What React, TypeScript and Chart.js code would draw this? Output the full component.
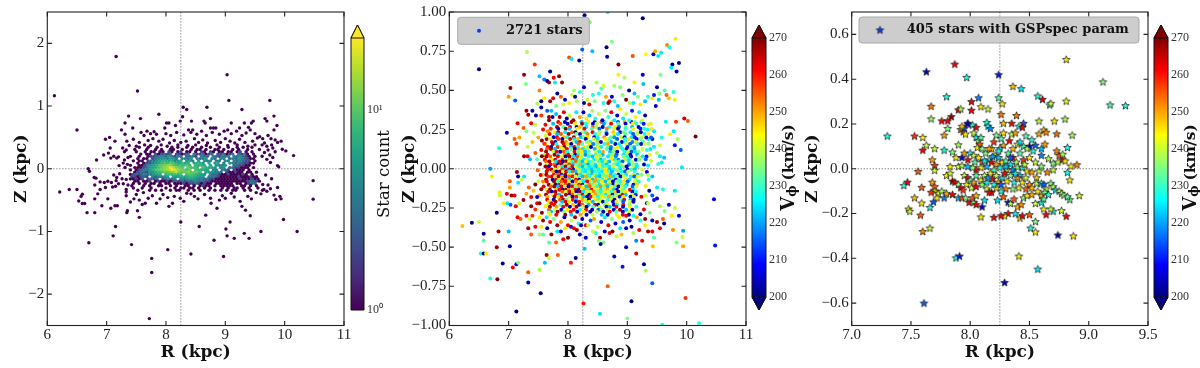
import { useEffect, useRef } from "react";
import { Chart, registerables } from "chart.js";
Chart.register(...registerables);

const SUN_R = 8.25;
const xTicks12 = [6, 7, 8, 9, 10, 11];
const yTicks1 = [-2, -1, 0, 1, 2];
const yTicks2 = [-1, -0.75, -0.5, -0.25, 0, 0.25, 0.5, 0.75, 1];
const xTicks3 = [7, 7.5, 8, 8.5, 9, 9.5];
const yTicks3 = [-0.6, -0.4, -0.2, 0, 0.2, 0.4, 0.6];
const vTicks = [200, 210, 220, 230, 240, 250, 260, 270];
const countTicks = [1, 10];

// panel 1: isolated hexbin cells holding one star (R, Z pairs)
const singleCells = [
6.12,1.165,7.16,1.79,6.5,.617,7.52,1.24,9.03,1.5,9.06,1.09,9.75,1.09,9.28,.945,8.69,.98,8.29,.98,8.35,.945,7.88,.87,7.37,.84,9.82,.84,7.57,.8,8.75,.8,8.28,.83,8.24,.76,8.43,.76,8.64,.76,8.66,.73,9.67,.8,9.7,.76,9.47,.76,9.44,.73,9.32,.73,9.1,.73,8.01,.73,8.05,.73,7.31,.73,8.16,.69,9.87,.69,9.39,.66,7.44,.65,7.98,.65,7.25,.62,8.38,.62,8.45,.62,8.8,.65,8.75,.65,8.84,.65,9.24,.65,9.04,.62,9.82,.62,9.42,.62,
7.31,.55,7.58,.58,7.68,.6,7.74,.56,7.8,.59,7.84,.55,7.63,.53,8.0,.56,8.08,.53,8.18,.58,8.3,.54,8.42,.58,8.52,.55,8.6,.6,8.68,.53,8.78,.58,8.9,.55,8.98,.6,9.1,.56,9.19,.6,9.28,.53,9.35,.57,9.5,.56,9.58,.51,9.63,.48,9.72,.53,9.77,.48,9.84,.46,
7.34,.44,7.45,.47,7.55,.42,7.7,.45,7.78,.48,7.88,.44,7.95,.47,8.06,.41,8.14,.45,8.25,.42,8.34,.44,8.48,.48,8.55,.42,8.62,.46,8.7,.41,8.83,.45,8.92,.42,9.0,.48,9.08,.44,9.16,.41,9.24,.47,9.33,.42,9.46,.44,9.54,.49,9.66,.41,9.78,.38,9.88,.42,9.96,.31,9.94,.44,10.02,.285,10.15,.21,
7.38,.37,7.5,.36,7.64,.38,7.74,.37,7.92,.38,8.02,.36,8.2,.38,8.37,.37,8.5,.38,8.68,.37,8.86,.38,9.04,.37,9.2,.38,9.38,.36,9.5,.38,9.62,.38,9.7,.36,9.8,.33,9.84,.27,9.72,.3,9.66,.26,9.75,.22,9.8,.18,9.62,.2,9.7,.15,9.88,.05,9.9,.03,9.76,.1,
6.98,.47,7.05,.5,7.14,.44,7.06,.33,6.95,.22,7.03,.25,6.83,.14,7.07,.17,7.17,.17,7.12,.2,7.2,.19,7.27,.33,7.3,.27,7.33,.3,7.21,.05,7.3,.14,7.36,.18,7.28,.09,7.35,.07,7.31,.02,
6.71,-.04,6.69,0,6.79,-.14,6.82,-.15,6.8,-.26,6.89,-.21,6.96,-.22,7.02,-.2,7.08,-.22,7.12,-.1,7.17,-.14,7.22,-.08,7.16,-.19,7.26,-.16,7.33,-.17,7.2,-.24,7.1,-.29,7.15,-.28,7.28,-.24,7.36,-.26,7.33,-.33,7.33,-.37,6.98,-.3,6.85,-.4,6.89,-.33,7.02,-.48,6.8,-.48,
6.21,-.37,6.37,-.33,6.5,-.33,6.59,-.405,6.57,-.44,6.53,-.515,6.59,-.555,6.63,-.555,6.67,-.7,6.8,-.7,6.92,-.59,7.07,-.63,7.14,-.59,7.18,-.59,7.34,-.7,7.35,-.67,7.52,-.67,7.55,-.775,7.4,-.53,7.46,-.48,7.33,-.43,7.5,-.41,7.55,-.5,7.6,-.57,7.65,-.55,7.7,-.47,7.77,-.43,7.62,-.38,7.84,-.55,7.9,-.48,7.95,-.41,8.05,-.6,8.11,-.55,8.03,-.46,8.14,-.44,8.24,-.47,8.3,-.52,8.35,-.39,8.42,-.4,8.48,-.44,8.54,-.48,8.65,-.41,8.75,-.47,8.67,-.74,8.76,-.55,8.86,-.63,8.9,-.5,8.95,-.43,9.0,-.47,9.1,-.39,9.15,-.45,9.25,-.52,9.34,-.66,9.42,-.75,9.28,-.6,9.38,-.44,9.44,-.48,9.52,-.38,9.6,-.4,9.7,-.36,9.76,-.32,9.82,-.42,9.85,-.49,9.92,-.44,9.94,-.48,9.88,-.3,9.65,-.33,9.72,-.26,9.78,-.16,9.68,-.1,9.63,-.25,
6.7,-1.18,7.11,-1.07,7.15,-.92,7.42,-1.21,7.76,-1.43,7.76,-1.655,7.72,-2.39,8.03,-1.29,8.42,-1.36,8.97,-1.4,8.56,-.92,8.25,-.85,9.08,-.85,9.01,-.96,9.03,-1.07,9.15,-1.11,8.81,-1.14,9.32,-1.03,9.4,-1.11,9.6,-1,9.98,-.81,10.21,-1,10.48,-.485,10.48,-.19,
];
// panel 1: hexbin band, one row per Z, star count per cell
const rowZ = [.342,.306,.27,.234,.198,.162,.126,.09,.054,.018,-.018,-.054,-.09,-.126,-.162,-.198,-.234,-.27,-.306,-.342];
const rowCounts = [
[0,0,0,1,0,0,1,0,0,1,0,0,0,0,1,0,1,0,0,1,0,1,0,0,1,0,0,1,0,0,1,0,0,1,0,0,1,0,1,0,0,1,0,0,0],
[0,1,0,0,0,1,0,0,1,0,1,0,0,1,1,0,0,1,0,0,1,0,1,1,0,1,0,0,1,1,0,1,0,0,1,0,1,0,0,1,0,0,0,1,0],
[0,0,1,0,0,1,0,1,1,0,1,1,0,2,1,0,1,2,0,1,1,0,1,0,2,1,0,2,1,0,1,1,0,1,1,0,1,2,0,1,0,1,0,0,0],
[0,0,0,1,0,1,1,0,2,1,2,3,2,3,0,2,2,1,2,3,0,3,2,2,3,1,2,3,0,2,2,3,1,2,3,0,3,2,4,1,0,1,0,0,0],
[1,0,0,1,0,0,1,2,2,3,4,4,3,5,4,2,4,3,0,3,3,4,2,0,4,3,3,0,4,3,2,4,3,4,0,4,3,5,3,2,1,0,1,0,0],
[0,0,1,0,1,1,0,2,3,4,5,5,4,6,5,3,0,4,4,3,5,0,4,3,4,5,0,4,3,0,4,4,0,3,4,3,5,4,3,2,1,1,0,0,0],
[0,1,0,1,1,0,2,3,3,5,6,7,7,6,7,4,5,6,0,5,6,4,0,6,0,5,4,5,0,4,3,0,5,4,0,4,3,4,3,2,2,0,1,0,0],
[0,0,1,0,1,2,2,4,5,6,8,9,8,10,9,7,6,8,6,7,0,6,7,7,5,0,6,0,5,6,0,4,0,5,4,3,4,3,2,2,1,1,0,0,0],
[1,0,0,1,1,2,4,5,6,8,10,11,12,14,12,9,8,9,8,10,8,0,8,7,7,7,0,6,0,5,5,4,5,0,0,3,3,2,2,1,1,0,0,0,0],
[0,1,1,1,2,3,5,6,7,9,11,13,15,21,17,13,11,10,0,11,9,9,8,0,9,7,7,6,5,0,4,5,0,3,3,2,2,1,1,1,0,1,0,0,0],
[1,0,1,2,3,4,4,6,8,10,11,12,14,16,23,19,14,12,11,9,11,0,9,8,7,7,6,0,5,4,0,4,3,2,0,2,1,1,1,0,1,0,0,0,0],
[0,1,2,3,3,2,5,5,7,8,9,11,10,12,13,17,11,10,11,12,10,11,10,8,0,6,6,5,4,4,3,0,2,1,1,2,1,1,0,1,1,0,1,0,0],
[1,2,3,2,3,4,3,4,5,6,7,0,8,9,8,9,8,9,0,9,10,9,8,7,6,5,0,4,3,3,2,1,1,2,1,1,1,1,2,1,0,1,0,0,0],
[2,2,1,2,3,2,0,4,3,4,4,5,6,0,6,5,6,7,6,7,8,7,6,5,5,0,4,3,3,2,1,1,1,1,1,1,2,1,1,1,2,1,1,0,0],
[1,1,2,1,2,0,2,3,2,3,0,2,3,4,3,4,0,5,4,5,6,6,5,4,4,3,3,2,2,1,1,1,1,1,1,1,1,2,1,1,1,2,1,1,0],
[0,1,1,0,1,1,2,0,1,2,1,1,2,1,2,3,2,3,2,3,3,4,4,3,3,2,2,1,1,1,1,1,1,1,1,1,1,1,1,2,3,3,2,1,0],
[0,1,0,1,0,1,0,1,1,0,1,0,1,1,0,1,1,1,2,1,2,2,3,2,1,2,1,1,0,1,1,1,1,1,1,0,1,1,0,1,2,3,3,0,0],
[1,0,0,0,1,0,1,0,0,1,1,0,0,1,0,1,0,0,1,1,0,1,0,1,2,1,1,0,1,0,1,1,1,1,1,0,0,1,1,0,1,0,1,0,0],
[0,1,0,0,1,0,0,1,0,0,0,0,1,0,0,1,0,1,1,0,1,1,0,1,0,1,0,1,0,0,0,1,0,1,0,1,1,0,1,0,1,0,0,1,0],
[0,0,1,0,0,0,1,0,1,0,1,0,0,1,0,1,1,0,0,1,0,1,0,1,0,0,1,0,1,0,1,0,1,0,1,1,0,0,1,0,1,0,0,0,1],
];

// panel 2: scattered stars as R, Z, Vphi triples
const outerStars = [
6.5,.635,200,8.28,.98,202,8.67,1,225,9.26,.96,200,8.37,.935,235,8.24,.76,215,8.74,.81,235,7.31,.745,238,7.44,.665,258,8.02,.71,256,8.06,.7,225,8.19,.69,202,8.41,.75,222,8.65,.775,200,8.66,.715,205,9.09,.72,256,9.31,.73,244,9.44,.73,205,9.47,.75,250,9.57,.74,225,9.52,.72,225,9.67,.79,252,9.71,.775,228,9.81,.83,245,8.85,.665,270,9.87,.675,200,9.76,.665,202,9.74,.645,225,9.83,.62,205,9.96,.32,265,10.02,.305,255,10.15,.205,270,9.9,.12,215,9.92,.01,225,10.46,-.195,207,10.48,-.49,210,
6.22,-.365,248,6.38,-.345,200,6.5,-.34,240,6.58,-.415,202,6.58,-.46,232,6.53,-.54,228,6.58,-.54,202,6.62,-.54,245,6.8,-.5,268,6.83,-.4,268,6.8,-.28,200,7,-.4,222,7.02,-.495,202,6.69,0,220,6.72,-.05,245,6.84,.13,228,6.97,.23,205,7,.46,250,7.03,.515,270,7.11,.435,215,6.9,-.605,202,7.07,-.63,262,7.13,-.61,205,7.16,-.6,235,6.69,-.7,228,6.81,-.705,270,7.33,-.66,255,7.52,-.645,238,7.33,-.725,205,7.54,-.795,202,7.13,-.91,200,7.61,-.6,222,7.64,-.55,268,7.68,-.57,240,7.83,-.55,255,8.05,-.6,260,8.13,-.57,202,8.28,-.51,222,8.26,-.86,260,8.54,-.925,225,8.67,-.75,255,8.78,-.56,205,8.92,-.625,210,9,-.955,235,9.07,-.845,200,9.15,-.54,262,9.28,-.61,202,9.31,-.65,238,9.42,-.73,215,8.98,-.5,205,9.43,-.495,248,9.98,-.825,258,9.59,-.995,228,10.21,-.985,228,9.94,-.495,250,9.94,-.395,220,9.93,-.435,240,9.77,-.39,252,9.83,-.47,235,
7.26,.6,268,7.29,.54,235,7.3,.37,268,7.33,.345,268,7.25,.26,255,7.3,.24,235,7.38,.29,262,7.4,.37,205,7.46,.34,202,7.48,.415,238,7.55,.39,202,7.52,.5,252,7.52,.59,222,7.6,.57,218,7.55,.43,200,7.7,.62,202,7.76,.58,262,7.65,.56,200,7.68,.55,268,7.78,.55,225,7.85,.59,268,7.9,.55,268,7.82,.48,202,7.88,.46,255,7.7,.43,268,7.72,.37,222,7.65,.37,215,7.8,.4,235,7.92,.41,240,8.02,.42,245,8.12,.46,202,8.15,.43,238,8.27,.42,202,8.33,.44,240,8.42,.47,228,8.48,.55,238,8.52,.48,228,8.56,.51,232,8.6,.53,240,8.64,.46,250,8.7,.43,262,8.68,.42,268,8.78,.43,228,8.84,.4,222,8.85,.6,245,8.88,.52,235,8.95,.58,238,8.98,.44,270,9.03,.5,200,9.04,.42,238,9.12,.48,222,9.18,.46,235,9.26,.6,205,9.27,.54,222,9.35,.46,228,9.42,.45,245,9.5,.52,202,9.54,.48,235,9.53,.44,222,9.63,.5,230,9.66,.47,255,9.7,.45,248,9.78,.49,228,9.8,.44,245,9.56,.6,235,9.48,.4,205,9.45,.47,210,
7.15,.29,262,7.1,.19,255,7.13,.16,258,7.18,.2,250,7.26,.08,268,7.32,.08,262,7.36,.06,222,7.45,.1,255,7.42,.23,240,7.55,.34,258,7.5,.2,250,7.58,.25,262,7.45,.28,240,7.32,.14,240,7.4,.17,248,7.55,.12,262,
7.26,-.05,225,7.14,-.02,268,7.16,-.05,202,7.02,-.08,255,7.02,-.12,250,7.16,-.09,225,7.22,-.07,240,6.97,-.16,262,7.05,-.17,268,7.1,-.17,262,6.85,-.15,245,6.85,-.17,240,6.92,-.22,245,6.98,-.22,225,7.03,-.23,215,7.12,-.24,262,7.18,-.22,240,7.25,-.2,268,7.3,-.16,250,7.38,-.18,262,7.34,-.12,255,7.42,-.14,248,7.45,-.1,270,7.48,-.18,205,7.38,-.24,268,7.45,-.26,258,7.52,-.22,268,7.56,-.28,268,7.62,-.24,245,7.68,-.28,240,7.72,-.22,262,7.4,-.3,258,7.3,-.3,262,7.2,-.32,255,7.15,-.31,262,7.33,-.38,268,7.35,-.32,240,7.45,-.37,262,7.52,-.42,238,7.58,-.42,232,7.65,-.38,202,7.72,-.42,268,7.82,-.4,225,7.88,-.4,205,7.92,-.45,262,8,-.44,270,8.05,-.37,205,8.1,-.38,262,8.15,-.39,268,8.2,-.42,202,8.3,-.44,205,8.34,-.36,238,8.42,-.4,240,8.54,-.44,268,8.55,-.48,202,8.52,-.46,235,8.62,-.4,202,8.7,-.41,262,8.75,-.4,270,8.82,-.43,240,8.9,-.42,248,8.98,-.38,205,9.07,-.37,202,9.15,-.46,218,9.25,-.46,262,9.3,-.32,268,9.35,-.4,268,9.42,-.4,262,9.5,-.34,268,9.55,-.38,262,9.62,-.35,200,9.42,-.33,205,9.3,-.36,245,9.22,-.33,228,9.6,-.32,255,9.75,-.3,245,9.8,-.25,240,9.87,-.3,205,9.7,-.23,205,9.63,-.27,235,9.55,-.24,238,9.5,-.19,205,9.42,-.17,215,9.45,-.2,210,9.35,-.22,240,9.6,-.13,228,9.5,-.12,225,9.8,-.14,225,9.42,-.05,222,9.35,-.04,238,
9.55,.08,225,9.5,.1,238,9.45,.14,225,9.4,.2,215,9.45,.24,225,9.36,.28,245,9.52,.03,228,9.62,.07,222,9.58,.04,225,9.8,.15,210,9.78,.24,225,9.72,.22,245,9.65,.3,225,9.85,.19,238,9.82,.3,258,9.58,.2,228,9.55,.15,240,
];
// panel 2: stars bordering the crowded core, R, Z, Vphi triples
const edgeStars = [
7.62,.28,262,7.68,.31,268,7.74,.33,205,7.8,.35,222,7.86,.33,268,7.93,.36,262,7.98,.32,202,8.03,.34,240,8.09,.31,268,8.14,.36,225,8.2,.33,250,8.26,.36,205,8.31,.32,245,8.36,.34,222,8.41,.37,238,8.46,.32,228,8.52,.35,240,8.58,.31,205,8.63,.37,235,8.68,.33,228,8.73,.36,262,8.78,.31,225,8.83,.34,205,8.88,.38,245,8.93,.32,225,8.98,.35,240,9.03,.31,228,9.08,.37,210,9.14,.33,245,9.2,.36,225,9.25,.31,240,9.3,.34,202,9.34,.25,228,9.32,.2,205,9.36,.16,235,9.33,.12,228,9.38,.09,245,9.31,.06,215,9.35,.02,225,9.4,.05,240,9.33,-.02,205,9.36,-.07,228,9.31,-.11,245,9.37,-.14,202,9.3,-.17,240,9.33,-.22,205,9.28,-.26,262,9.38,-.28,235,9.22,-.29,205,9.16,-.31,250,9.1,-.3,228,9.04,-.33,205,8.98,-.3,262,8.93,-.34,215,8.86,-.31,245,8.8,-.35,205,8.74,-.32,235,8.68,-.36,262,8.62,-.31,225,8.56,-.34,205,8.5,-.37,240,8.44,-.32,250,8.38,-.33,215,8.3,-.36,262,8.24,-.32,205,8.18,-.35,228,8.12,-.31,268,8.06,-.33,240,8,-.36,262,7.94,-.31,205,7.88,-.34,250,7.82,-.36,268,7.76,-.32,235,7.7,-.34,262,7.64,-.31,225,7.58,-.33,268,7.52,-.31,245,7.48,-.22,262,7.52,-.17,250,7.55,-.13,268,7.5,-.08,240,7.54,-.04,262,7.49,-.01,255,7.53,.03,268,7.48,.06,232,7.56,.08,270,7.6,.16,258,7.62,.21,240,7.56,.18,268,7.66,.24,252,
7.95,.44,205,8.07,.47,240,8.2,.49,228,8.36,.41,262,8.45,.43,235,8.6,.42,228,8.74,.46,205,8.92,.47,235,9.1,.42,225,9.22,.41,245,9.3,.43,222,7.6,.45,245,7.75,.45,262,7.68,.33,268,8.1,.5,238,8.27,.52,205,8.78,.53,238,9.12,.55,245,
7.8,-.47,255,7.95,-.38,245,8.22,-.36,205,8.47,-.41,228,8.6,-.47,235,8.88,-.38,225,9.1,-.41,238,9.2,-.39,262,9.45,-.44,232,7.55,-.37,245,7.38,-.42,255,7.68,-.47,232,
];
// panel 2: crowded core, one row per Z with its first R, its spacing and one Vphi per star (0 = gap)
const coreZ = [.298,.287,.266,.255,.233,.222,.201,.19,.17,.158,.138,.126,.109,.09,.078,.058,.046,.027,.014,-.005,-.018,-.038,-.05,-.07,-.082,-.102,-.114,-.134,-.146,-.166,-.178,-.198,-.21,-.23,-.242,-.262,-.274,-.294];
const coreStart = [7.78,7.75,7.76,7.71,7.72,7.69,7.7,7.64,7.67,7.62,7.66,7.58,7.63,7.6,7.57,7.61,7.63,7.58,7.62,7.6,7.64,7.57,7.61,7.63,7.58,7.62,7.59,7.64,7.61,7.63,7.59,7.65,7.62,7.66,7.64,7.68,7.66,7.7];
const coreStep = [.056,.061,.055,.063,.058,.064,.057,.066,.059,.062,.056,.067,.06,.058,.065,.059,.056,.063,.057,.061,.055,.064,.058,.056,.062,.057,.06,.054,.059,.056,.061,.054,.057,.053,.056,.052,.055,.051];
const coreV = [
[0,262,0,205,0,268,235,0,222,0,245,0,202,0,255,228,0,240,0,215,0,250,0,205,235,0,225,0],
[222,0,255,0,202,0,245,0,268,228,0,205,240,0,220,0,262,0,232,0,205,0,245,228,0,210,0,240],
[0,268,0,232,0,262,0,205,248,0,225,0,255,238,0,202,0,228,0,245,215,0,235,0,222,0,205,0],
[258,0,205,0,270,222,0,245,0,262,0,232,0,215,0,252,0,240,205,0,228,0,245,0,210,228,0,245],
[0,245,268,0,225,0,255,202,0,240,228,0,262,0,235,0,222,0,248,0,205,235,0,225,0,240,205,0],
[262,0,222,255,0,268,0,235,205,0,252,0,228,240,0,205,0,245,225,0,232,0,215,240,0,228,245,0],
[0,205,262,0,248,228,0,268,0,222,235,245,0,205,228,0,252,0,232,220,0,240,205,0,225,210,0,240],
[268,240,0,258,205,0,262,225,248,0,205,0,240,225,0,245,232,0,215,0,228,245,0,210,235,0,225,205],
[0,262,205,0,268,252,0,240,222,262,0,235,225,0,248,205,0,238,222,240,0,205,228,0,218,245,0,230],
[250,0,268,228,0,262,245,205,0,255,232,0,245,218,235,0,228,250,0,205,225,0,240,215,0,230,205,240],
[262,205,0,258,240,268,0,222,262,228,0,245,235,205,0,240,225,0,232,218,0,245,228,0,210,235,222,0],
[0,255,268,222,0,245,262,235,205,250,225,238,0,222,245,0,232,215,240,0,228,205,235,220,0,240,0,225],
[268,0,240,262,205,255,228,0,262,235,245,222,232,0,240,225,250,0,222,235,205,0,228,240,215,225,235,0],
[240,262,0,268,225,0,252,262,238,205,228,245,218,235,0,228,240,222,0,232,240,215,0,225,238,205,0,222],
[0,268,255,0,262,240,205,268,225,255,238,0,228,222,245,235,0,225,240,218,0,235,228,205,0,240,225,210],
[262,0,245,268,0,258,232,250,262,222,245,228,235,0,225,240,222,232,0,245,225,218,0,238,225,0,205,235],
[255,268,0,225,262,205,268,240,228,255,232,222,245,228,235,0,230,225,240,222,0,235,228,215,0,225,240,0],
[0,240,262,255,205,268,245,258,222,232,250,228,220,235,225,245,228,222,0,232,225,240,0,218,235,228,0,205],
[268,205,0,262,245,225,268,232,262,240,228,222,235,225,230,222,240,228,232,225,245,0,228,235,205,0,240,225],
[0,262,268,240,0,258,222,262,205,245,235,225,228,222,232,226,235,245,222,228,238,225,0,205,232,222,0,240],
[262,0,250,205,268,240,262,228,255,222,240,228,225,235,222,230,228,225,245,232,222,0,235,228,215,240,0,228],
[245,268,0,262,255,210,268,245,235,262,225,245,228,222,238,225,232,245,222,230,205,238,225,0,245,222,235,0],
[0,258,262,240,268,250,205,255,262,240,232,222,250,228,245,225,222,240,232,250,225,235,205,240,0,228,215,245],
[268,0,205,262,245,268,255,222,240,262,205,248,232,245,222,250,235,228,245,222,238,205,232,0,245,225,0,235],
[252,262,0,268,232,255,262,245,205,252,240,225,262,238,250,228,245,222,240,205,235,228,245,215,0,240,228,0],
[0,268,240,205,262,245,258,268,228,248,262,205,240,252,232,245,225,240,250,228,205,245,232,240,222,0,205,248],
[262,0,255,268,222,262,240,205,262,235,250,245,222,255,240,228,252,235,222,245,232,205,240,228,0,215,240,0],
[245,268,0,248,262,205,268,252,235,262,205,245,250,228,262,240,245,225,238,250,240,222,205,245,232,0,262,225],
[0,262,205,268,0,255,240,262,245,205,268,225,245,240,252,235,228,245,240,230,248,205,235,245,0,205,228,0],
[268,0,245,262,222,0,268,205,255,245,228,262,238,205,245,250,235,240,225,245,205,235,240,262,222,0,245,210],
[0,250,0,268,245,262,0,240,202,262,245,222,205,262,240,228,245,238,250,232,240,210,245,0,205,240,0,262],
[262,0,205,0,255,268,232,0,262,222,0,250,240,202,0,245,232,240,0,228,245,205,0,235,262,0,222,205],
[0,245,0,268,0,222,262,245,0,205,262,0,238,245,222,0,240,205,235,0,205,245,0,215,0,240,205,0],
[240,0,262,0,232,0,268,0,248,0,202,255,0,222,0,262,205,0,235,245,0,205,228,0,262,0,235,0],
[0,268,0,250,0,262,0,205,0,268,0,240,205,0,232,0,240,0,205,222,0,262,0,205,0,245,0,228],
[255,0,240,0,205,0,245,0,262,0,228,0,262,0,205,0,215,235,0,240,0,205,0,268,0,222,0,205],
[0,222,0,268,0,235,0,262,0,205,0,245,0,202,0,238,0,205,0,262,0,232,0,205,0,240,0,0],
[245,0,262,0,0,268,0,222,0,0,250,0,205,0,240,0,0,222,0,205,0,0,245,0,262,0,205,0],
];

// panel 3: stars with GSPspec parameters as R, Z, Vphi triples
const specStars = [
7.3,.146,228,7.53,.146,258,7.6,.14,245,7.63,.105,240,7.6,.083,262,7.7,.09,240,7.78,.15,250,7.78,.083,228,7.68,.04,250,7.7,.015,258,7.7,-.007,240,7.56,-.012,255,7.63,.433,203,7.87,.467,262,7.97,.408,228,8.24,.42,210,8.36,.368,248,8.43,.358,225,8.81,.488,245,9.12,.388,235,9.18,.285,232,9.31,.282,228,8.81,.302,243,8.57,.325,228,8.61,.31,264,8.67,.285,232,8.68,.292,240,7.8,.322,228,7.67,.279,253,7.67,.223,237,7.76,.214,262,7.81,.214,262,7.81,.18,235,7.84,.233,270,7.9,.263,262,7.92,.267,238,8.01,.3,262,8.07,.317,218,8.01,.261,262,8.09,.277,245,8.15,.267,240,8.24,.317,232,8.27,.29,245,8.26,.243,253,8.39,.238,253,8.35,.203,262,8.28,.203,248,8.45,.203,215,8.14,.207,228,7.98,.203,208,8.73,.156,254,8.86,.15,238,8.82,.095,228,8.71,.213,245,8.8,.222,238,8.58,.213,240,8.62,.173,248,8.64,.163,252,8.58,.156,250,8.47,.147,232,
7.47,-.06,262,7.44,-.075,228,7.59,-.083,255,7.53,-.13,248,7.59,-.153,245,7.66,-.173,228,7.48,-.18,245,7.49,-.19,240,7.58,-.207,255,7.6,-.28,252,7.66,-.265,240,7.61,-.6,215,7.88,-.398,228,7.91,-.39,210,8.29,-.508,205,8.41,-.39,245,8.57,-.448,225,8.74,-.296,203,8.87,-.3,245,8.51,-.265,228,8.55,-.236,235,8.55,-.282,245,8.81,-.212,262,8.77,-.187,240,8.92,-.12,240,8.9,.018,252,8.85,.012,245,8.82,-.016,228,8.84,-.05,245,8.84,-.138,235,
7.92,.175,250,7.94,.165,255,7.95,.18,215,7.93,.19,248,7.96,.155,245,7.98,.2,205,8.02,.195,228,8.05,.185,262,8.03,.16,240,8.05,.14,225,8.07,.125,238,8.09,.14,232,8.08,.11,255,8.06,.095,245,8.1,.09,235,8.15,.19,228,8.17,.18,218,8.22,.15,235,8.2,.12,258,8.28,.16,245,8.26,.135,232,8.35,.155,240,8.33,.125,262,8.28,.105,250,8.18,.09,245,8.25,.09,225,8.32,.07,232,8.36,.09,248,8.41,.19,228,8.44,.185,262,8.4,.11,240,8.45,.1,232,8.5,.1,205,8.48,.09,238,8.55,.105,215,8.53,.08,228,8.6,.09,222,8.63,.11,250,8.6,.06,218,8.5,.05,245,8.45,.04,258,8.42,.07,232,8.55,.03,240,8.66,.045,238,8.7,.025,235,8.74,.03,240,8.75,.06,255,8.73,.08,252,8.78,.04,262,8.8,.035,245,8.78,.065,238,
7.9,.107,238,7.88,.05,245,7.93,.05,208,7.95,.07,250,7.85,.075,235,7.9,.01,240,7.83,.01,245,7.93,.015,238,7.98,.04,262,8,.07,228,8.03,.06,240,8.07,.05,245,8.04,.03,232,8.1,.03,255,8.13,.07,235,8.16,.09,250,8.16,.04,228,8.18,.03,262,8.21,.06,240,8.24,.05,222,8.22,.02,250,8.27,.03,245,8.3,.035,232,8.34,.02,225,8.36,.05,262,8.39,.03,238,8.14,.01,222,8.09,.005,245,8.05,-.005,262,8.2,-.005,232,8.25,.005,228,8.31,-.003,240,8.36,-.005,218,8.4,.008,235,8.44,.005,228,8.48,-.01,245,8.42,-.03,222,8.52,-.015,250,8.58,-.01,240,8.6,.012,235,8.65,-.015,252,8.7,-.005,240,8.56,-.04,248,
7.8,-.03,245,7.85,-.055,268,7.87,-.06,262,7.83,-.02,240,7.9,-.07,235,7.92,-.085,262,7.94,-.095,258,7.97,-.07,245,7.95,-.03,240,7.98,-.04,262,8,-.05,232,8.03,-.06,250,8.05,-.03,232,8.01,-.085,240,8.05,-.08,262,8.09,-.05,245,8.1,-.07,235,8.12,-.03,240,8.14,-.06,228,8.17,-.02,245,8.19,-.045,262,8.22,-.03,240,8.24,-.06,250,8.27,-.04,225,8.29,-.02,262,8.31,-.055,245,8.34,-.03,235,8.37,-.06,228,8.4,-.04,252,8.44,-.06,245,8.47,-.04,240,8.5,-.07,252,8.52,-.085,248,8.47,-.09,255,8.41,-.085,245,8.36,-.09,235,8.3,-.09,252,8.26,-.1,228,8.22,-.085,245,8.18,-.105,262,8.14,-.09,240,8.56,-.065,238,8.6,-.065,228,8.62,-.07,215,8.64,-.09,240,8.68,-.065,235,8.7,-.08,238,8.72,-.095,225,8.75,-.1,240,8.77,-.11,235,8.79,-.118,238,8.82,-.125,232,8.57,-.1,245,8.6,-.12,250,8.63,-.105,235,8.66,-.115,228,
7.68,-.06,250,7.7,-.08,255,7.7,-.1,245,7.67,-.105,258,7.73,-.11,240,7.76,-.1,238,7.78,-.13,218,7.72,-.13,245,7.69,-.148,215,7.8,-.11,250,7.85,-.115,262,7.9,-.13,222,7.93,-.13,255,7.96,-.13,235,7.99,-.15,262,8.03,-.15,235,8.05,-.16,262,8.02,-.13,255,8.05,-.12,248,8.1,-.17,205,8.12,-.14,225,8.16,-.105,262,8.23,-.14,225,8.28,-.125,255,8.32,-.15,205,8.34,-.155,238,8.37,-.135,255,8.4,-.17,248,8.43,-.16,252,8.45,-.13,235,8.48,-.12,245,8.52,-.115,250,8.55,-.155,240,8.6,-.15,228,8.62,-.135,232,8.64,-.205,262,8.7,-.19,228,8.68,-.18,240,8.62,-.18,245,8.42,-.22,245,8.44,-.21,262,8.5,-.205,255,8.38,-.2,225,8.32,-.2,262,8.29,-.21,245,8.26,-.21,262,8.2,-.217,262,8.09,-.215,245,
8.02,.005,238,7.98,.01,222,8.12,.035,225,8.24,.08,228,8.19,.055,220,8.3,.01,222,8.34,.05,215,8.46,.02,240,8.38,-.02,225,8.26,-.07,215,8.2,-.07,228,8.15,-.04,220,8.42,.12,225,8.52,.13,228,8.38,.16,250,
];

const jetColor = (v: number) => {
  const t = Math.max(0, Math.min(1, (v - 200) / 70));
  const c = (x: number) => Math.round(255 * Math.max(0, Math.min(1, 1.5 - Math.abs(4 * t - x))));
  return `rgb(${c(3)},${c(2)},${c(1)})`;
};
const viridisStops = ["#440154", "#482878", "#3e4989", "#31688e", "#26828e", "#1f9e89", "#35b779", "#6ece58", "#b5de2b", "#fde725"];
const hexToRgb = (h: string) => [1, 3, 5].map((i) => parseInt(h.slice(i, i + 2), 16));
const viridis = (t: number) => {
  const p = Math.max(0, Math.min(1, t)) * (viridisStops.length - 1);
  const i = Math.min(viridisStops.length - 2, Math.floor(p));
  const a = hexToRgb(viridisStops[i]), b = hexToRgb(viridisStops[i + 1]);
  return `rgb(${a.map((x, k) => Math.round(x + (b[k] - x) * (p - i))).join(",")})`;
};
const COUNT_MAX = 23;
const countColor = (n: number) => viridis(Math.log(n) / Math.log(COUNT_MAX));

const starCache: Record<string, HTMLCanvasElement> = {};
const starImage = (color: string) => {
  if (starCache[color]) return starCache[color];
  const c = document.createElement("canvas");
  c.width = 11; c.height = 11;
  const g = c.getContext("2d")!;
  g.beginPath();
  for (let i = 0; i < 10; i++) {
    const r = i % 2 ? 1.75 : 4;
    const a = -Math.PI / 2 + (i * Math.PI) / 5;
    g[i ? "lineTo" : "moveTo"](5.5 + r * Math.cos(a), 5.8 + r * Math.sin(a));
  }
  g.closePath();
  g.fillStyle = color; g.fill();
  g.strokeStyle = "#1a1a1a"; g.lineWidth = 0.75; g.stroke();
  starCache[color] = c;
  return c;
};

const triples = (flat: number[]) => {
  const out: { x: number; y: number; v: number }[] = [];
  for (let i = 0; i + 2 < flat.length; i += 3) out.push({ x: flat[i], y: flat[i + 1], v: flat[i + 2] });
  return out;
};
const hexPoints = () => {
  const out: { x: number; y: number; v: number }[] = [];
  for (let i = 0; i + 1 < singleCells.length; i += 2) out.push({ x: singleCells[i], y: singleCells[i + 1], v: 1 });
  rowCounts.forEach((row, r) => row.forEach((n, i) => {
    if (n > 0) out.push({ x: 7.4 + (r % 2 ? 0.025 : 0) + i * 0.05, y: rowZ[r], v: n });
  }));
  return out;
};
const corePoints = () => {
  const out: { x: number; y: number; v: number }[] = [];
  coreV.forEach((row, r) => row.forEach((v, i) => {
    if (v > 0) out.push({ x: coreStart[r] + i * coreStep[r], y: coreZ[r], v });
  }));
  return out;
};

const SERIF = "'Liberation Serif', serif";
const TITLE = "'DejaVu Serif', serif";
const INK = "#222";

const framePlugin = {
  id: "frame",
  afterDatasetsDraw(chart: any) {
    const { ctx, chartArea: a, scales } = chart;
    ctx.save();
    ctx.strokeStyle = "#222"; ctx.lineWidth = 1.1;
    ctx.beginPath();
    scales.x.ticks.forEach((t: any) => {
      const p = scales.x.getPixelForValue(t.value);
      ctx.moveTo(p, a.top); ctx.lineTo(p, a.top + 4.5);
      ctx.moveTo(p, a.bottom); ctx.lineTo(p, a.bottom - 4.5);
    });
    scales.y.ticks.forEach((t: any) => {
      const p = scales.y.getPixelForValue(t.value);
      ctx.moveTo(a.left, p); ctx.lineTo(a.left + 4.5, p);
      ctx.moveTo(a.right, p); ctx.lineTo(a.right - 4.5, p);
    });
    ctx.stroke();
    ctx.strokeRect(a.left, a.top, a.right - a.left, a.bottom - a.top);
    const lg = chart.options.plugins.frame?.legend;
    if (lg) {
      ctx.beginPath();
      ctx.roundRect(lg.x, lg.y, lg.w, lg.h, 3);
      ctx.fillStyle = "rgba(200,200,200,0.9)"; ctx.fill();
      ctx.strokeStyle = "#aaa"; ctx.lineWidth = 1; ctx.stroke();
      if (lg.star) {
        ctx.drawImage(starImage(jetColor(213)), lg.mx - 5.5, lg.my - 5.5);
      } else {
        ctx.beginPath(); ctx.arc(lg.mx, lg.my, 2, 0, 7);
        ctx.fillStyle = jetColor(213); ctx.fill();
      }
      ctx.fillStyle = "#111";
      ctx.font = lg.font;
      ctx.textBaseline = "middle"; ctx.textAlign = "left";
      ctx.fillText(lg.text, lg.tx, lg.my);
    }
    ctx.restore();
  },
};

const barPlugin = {
  id: "cbar",
  afterDatasetsDraw(chart: any) {
    const { ctx, chartArea: a } = chart;
    const o = chart.options.plugins.cbar;
    const mid = (a.left + a.right) / 2;
    ctx.save();
    ctx.lineWidth = 1; ctx.strokeStyle = "#111";
    ctx.beginPath();
    ctx.moveTo(a.left, a.bottom); ctx.lineTo(a.left, a.top);
    ctx.lineTo(mid, a.top - 13); ctx.lineTo(a.right, a.top);
    ctx.lineTo(a.right, a.bottom);
    if (o.under) { ctx.lineTo(mid, a.bottom + 13); } else { ctx.lineTo(a.left, a.bottom); }
    ctx.closePath();
    ctx.stroke();
    ctx.beginPath(); ctx.moveTo(a.left, a.top); ctx.lineTo(mid, a.top - 13); ctx.lineTo(a.right, a.top); ctx.closePath();
    ctx.fillStyle = o.over; ctx.fill(); ctx.stroke();
    if (o.under) {
      ctx.beginPath(); ctx.moveTo(a.left, a.bottom); ctx.lineTo(mid, a.bottom + 13); ctx.lineTo(a.right, a.bottom); ctx.closePath();
      ctx.fillStyle = o.under; ctx.fill(); ctx.stroke();
    }
    // rotated colour-bar title, reading upwards
    ctx.translate(o.titleX, (a.top + a.bottom) / 2);
    ctx.rotate(-Math.PI / 2);
    ctx.fillStyle = "#111"; ctx.textBaseline = "middle"; ctx.textAlign = "left";
    const parts: any[] = o.title;
    let total = 0;
    parts.forEach((p) => { ctx.font = p.font; total += ctx.measureText(p.text).width + (p.gap || 0); });
    let pos = -total / 2;
    parts.forEach((p) => {
      ctx.font = p.font;
      ctx.fillText(p.text, pos, p.dy || 0);
      pos += ctx.measureText(p.text).width + (p.gap || 0);
    });
    ctx.restore();
  },
};

function panelConfig(p: any) {
  const W = p.width, plotL = p.plotL - p.left, plotR = p.plotR - p.left;
  const tickFont = { family: SERIF, size: 15 };
  return {
    type: "scatter",
    data: {
      datasets: [
        {
          data: p.points,
          pointRadius: p.radius,
          pointBorderWidth: 0,
          pointBackgroundColor: p.points.map((d: any) => p.color(d.v)),
          pointStyle: p.star ? p.points.map((d: any) => starImage(p.color(d.v))) : "circle",
          order: 1,
        },
        { data: [{ x: SUN_R, y: p.yMin }, { x: SUN_R, y: p.yMax }], showLine: true, borderColor: "#777", borderWidth: 1, borderDash: [1.2, 1.8], pointRadius: 0, order: 2 },
        { data: [{ x: p.xMin, y: 0 }, { x: p.xMax, y: 0 }], showLine: true, borderColor: "#777", borderWidth: 1, borderDash: [1.2, 1.8], pointRadius: 0, order: 2 },
      ],
    },
    options: {
      animation: false, responsive: false, maintainAspectRatio: false,
      layout: { padding: { top: 9.3, right: W - plotR, bottom: 0, left: 0 } },
      plugins: { legend: { display: false }, tooltip: { enabled: false }, frame: { legend: p.legend } },
      scales: {
        x: {
          type: "linear", min: p.xMin, max: p.xMax,
          afterBuildTicks: (s: any) => { s.ticks = p.xTicks.map((value: number) => ({ value })); },
          afterFit: (s: any) => { s.height = 368 - 325.5; },
          grid: { display: false, drawTicks: false }, border: { display: false },
          ticks: { autoSkip: false, maxRotation: 0, font: tickFont, color: INK, padding: 1, callback: p.xFmt },
          title: { display: true, text: "R (kpc)", font: { family: TITLE, size: 17, weight: "bold" }, color: "#111", padding: { top: 0, bottom: 5 } },
        },
        y: {
          type: "linear", min: p.yMin, max: p.yMax,
          afterBuildTicks: (s: any) => { s.ticks = p.yTicks.map((value: number) => ({ value })); },
          afterFit: (s: any) => { s.width = plotL; },
          grid: { display: false, drawTicks: false }, border: { display: false },
          ticks: { autoSkip: false, font: tickFont, color: INK, padding: 3, callback: p.yFmt },
          title: { display: true, text: "Z (kpc)", font: { family: TITLE, size: 17, weight: "bold" }, color: "#111", padding: { top: p.titlePad, bottom: 0 } },
        },
      },
    },
    plugins: [framePlugin],
  };
}

function barConfig(b: any) {
  const plotL = b.plotL - b.left, plotR = b.plotR - b.left;
  return {
    type: "bar",
    data: {
      labels: ["colour"],
      datasets: [{
        data: [[b.min, b.max]],
        barPercentage: 1, categoryPercentage: 1, borderWidth: 0,
        backgroundColor: (c: any) => {
          const area = c.chart.chartArea;
          if (!area) return "#888";
          const g = c.chart.ctx.createLinearGradient(0, area.bottom, 0, area.top);
          for (let i = 0; i <= 40; i++) g.addColorStop(i / 40, b.ramp(i / 40));
          return g;
        },
      }],
    },
    options: {
      animation: false, responsive: false, maintainAspectRatio: false,
      layout: { padding: { top: 38, bottom: 368 - b.bottom, left: plotL, right: 0 } },
      plugins: { legend: { display: false }, tooltip: { enabled: false }, cbar: { over: b.over, under: b.under, title: b.title, titleX: b.titleX - b.left } },
      scales: {
        x: { display: false },
        y: {
          type: b.log ? "logarithmic" : "linear", position: "right", min: b.min, max: b.max,
          afterBuildTicks: (s: any) => { s.ticks = b.ticks.map((value: number) => ({ value })); },
          afterFit: (s: any) => { s.width = b.width - plotR; },
          grid: { display: false, drawTicks: false }, border: { display: false },
          ticks: { autoSkip: false, font: { family: SERIF, size: 12 }, color: "#333", padding: 3, callback: b.fmt },
        },
      },
    },
    plugins: [barPlugin],
  };
}

const minus = (s: string) => s.replace("-", "\u2212");
const panels = [
  { left: 0, width: 372, plotL: 47.3, plotR: 344, xMin: 6, xMax: 11, yMin: -2.5, yMax: 2.5, xTicks: xTicks12, yTicks: yTicks1, titlePad: 11.5, radius: 1.7,
    xFmt: (v: number) => String(v), yFmt: (v: number) => minus(String(v)), color: countColor, points: hexPoints() },
  { left: 395, width: 375, plotL: 449.3, plotR: 746, xMin: 6, xMax: 11, yMin: -1, yMax: 1, xTicks: xTicks12, yTicks: yTicks2, titlePad: 4.8, radius: 2,
    xFmt: (v: number) => String(v), yFmt: (v: number) => minus(v.toFixed(2)), color: jetColor, points: [...corePoints(), ...triples(edgeStars), ...triples(outerStars)],
    legend: { x: 457.7 - 395, y: 17.3, w: 131.6, h: 27, mx: 479 - 395, my: 30.7, tx: 506 - 395, text: "2721 stars", font: `bold 13px ${TITLE}` } },
  { left: 795, width: 370, plotL: 851.7, plotR: 1148, xMin: 7, xMax: 9.5, yMin: -0.7, yMax: 0.7, xTicks: xTicks3, yTicks: yTicks3, titlePad: 7.8, radius: 3, star: true,
    xFmt: (v: number) => v.toFixed(1), yFmt: (v: number) => minus(v.toFixed(1)), color: jetColor, points: triples(specStars),
    legend: { x: 859 - 795, y: 17, w: 280, h: 26, mx: 880 - 795, my: 30, tx: 906.7 - 795, star: true, text: "405 stars with GSPspec param", font: `bold 13px ${TITLE}` } },
];
const vFmt = (v: number) => String(v);
const jetRamp = (t: number) => jetColor(200 + 70 * t);
const vTitle = [
  { text: "V", font: `bold 18px ${TITLE}` },
  { text: "\u03d5", font: `bold 12px ${TITLE}`, dy: 4, gap: 5 },
  { text: "(km/s)", font: `bold 15.5px ${TITLE}` },
];
const bars = [
  { left: 345, width: 56, plotL: 351, plotR: 364, bottom: 310, min: 1, max: COUNT_MAX, log: true, ticks: countTicks, titleX: 385,
    title: [{ text: "Star count", font: `16.5px ${TITLE}` }], over: "#fde725", ramp: viridis,
    fmt: (v: number) => (v === 1 ? "10\u2070" : "10\u00b9") },
  { left: 746, width: 55, plotL: 752, plotR: 766, bottom: 297, min: 200, max: 270, ticks: vTicks, titleX: 789, title: vTitle, over: "#7f0000", under: "#00007f", ramp: jetRamp, fmt: vFmt },
  { left: 1148, width: 52, plotL: 1154, plotR: 1168, bottom: 297, min: 200, max: 270, ticks: vTicks, titleX: 1191, title: vTitle, over: "#7f0000", under: "#00007f", ramp: jetRamp, fmt: vFmt },
];

export default function App() {
  const host = useRef<HTMLDivElement>(null);
  useEffect(() => {
    const charts: Chart[] = [];
    const add = (left: number, width: number, cfg: any) => {
      const c = document.createElement("canvas");
      c.width = width; c.height = 368;
      c.style.cssText = `position:absolute;left:${left}px;top:0;width:${width}px;height:368px`;
      host.current!.appendChild(c);
      charts.push(new Chart(c, cfg));
      return c;
    };
    const nodes = [
      ...panels.map((p) => add(p.left, p.width, panelConfig(p))),
      ...bars.map((b) => add(b.left, b.width, barConfig(b))),
    ];
    return () => { charts.forEach((c) => c.destroy()); nodes.forEach((n) => n.remove()); };
  }, []);
  return <div ref={host} style={{ position: "absolute", left: 0, top: 0, width: 1200, height: 368, overflow: "hidden", background: "#fff" }} />;
}
